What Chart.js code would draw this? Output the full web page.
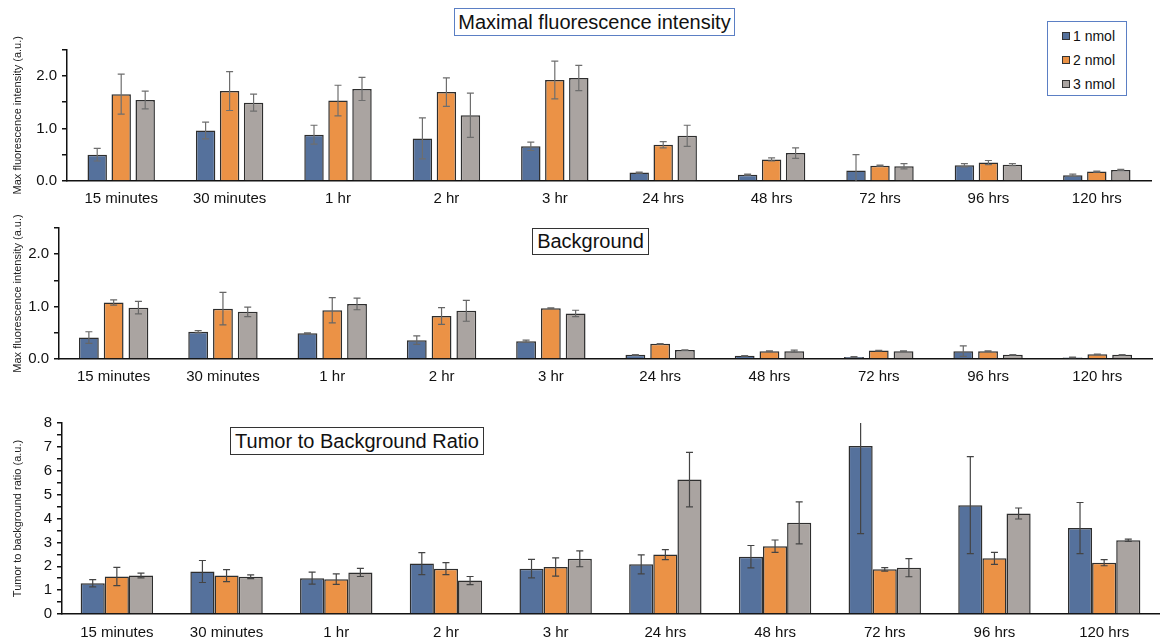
<!DOCTYPE html>
<html>
<head>
<meta charset="utf-8">
<script src="https://cdn.jsdelivr.net/npm/chart.js@4.4.0/dist/chart.umd.min.js"></script>
<style>
  body { margin: 0; background: #fff; font-family: "Liberation Sans", Arial, sans-serif; }
  #page { position: relative; width: 1160px; height: 644px; overflow: hidden; }
  canvas { position: absolute; left: 0; top: 0; }
  .tbox {
    position: absolute; box-sizing: border-box; border: 1px solid #333;
    display: flex; align-items: center; justify-content: center;
    font-size: 20px; color: #111; background: #fff; z-index: 2;
  }
  .legend {
    position: absolute; left: 1047px; top: 21px; width: 80px; height: 75px;
    box-sizing: border-box; border: 1px solid #5b7fc4; background: #fff; z-index: 2;
  }
  .legend div { position: absolute; left: 14px; font-size: 14px; color: #111; line-height: 16px; }
  .legend span {
    display: inline-block; width: 6px; height: 6px; border: 1px solid #333;
    margin-right: 3px; vertical-align: 1px;
  }
</style>
</head>
<body>
<div id="page">
  <canvas id="maxChart" width="1160" height="644"></canvas>
  <canvas id="bgChart" width="1160" height="644"></canvas>
  <canvas id="ratioChart" width="1160" height="644"></canvas>
  <div class="tbox" style="left:454px;top:8px;width:281px;height:28px;border-color:#5b7fc4;">Maximal fluorescence intensity</div>
  <div class="tbox" style="left:532px;top:228px;width:117px;height:27px;">Background</div>
  <div class="tbox" style="left:230px;top:427px;width:254px;height:28px;">Tumor to Background Ratio</div>
  <div class="legend" id="legend"></div>
</div>
<script>
const categories = ["15 minutes", "30 minutes", "1 hr", "2 hr", "3 hr", "24 hrs", "48 hrs", "72 hrs", "96 hrs", "120 hrs"];
const seriesNames = ["1 nmol", "2 nmol", "3 nmol"];
const barColors = ["#55719c", "#eb9246", "#aaa4a1"];

// maximal fluorescence intensity
const maxN1 = [0.50, 0.96, 0.88, 0.81, 0.66, 0.16, 0.12, 0.20, 0.30, 0.11];
const maxN2 = [1.65, 1.71, 1.53, 1.69, 1.92, 0.69, 0.41, 0.29, 0.35, 0.18];
const maxN3 = [1.54, 1.49, 1.75, 1.25, 1.96, 0.86, 0.53, 0.28, 0.31, 0.21];
const maxN1Err = [0.12, 0.16, 0.18, 0.39, 0.08, 0.01, 0.01, 0.30, 0.03, 0.02];
const maxN2Err = [0.38, 0.37, 0.29, 0.27, 0.36, 0.06, 0.03, 0.01, 0.04, 0.01];
const maxN3Err = [0.17, 0.16, 0.22, 0.42, 0.24, 0.20, 0.10, 0.05, 0.02, 0.01];

// background
const bgN1 = [0.41, 0.52, 0.49, 0.36, 0.34, 0.08, 0.06, 0.04, 0.15, 0.03];
const bgN2 = [1.08, 0.96, 0.93, 0.82, 0.97, 0.29, 0.15, 0.16, 0.15, 0.09];
const bgN3 = [0.98, 0.90, 1.05, 0.92, 0.87, 0.17, 0.15, 0.15, 0.08, 0.08];
const bgN1Err = [0.11, 0.02, 0.01, 0.08, 0.02, 0.005, 0.005, 0.005, 0.10, 0.005];
const bgN2Err = [0.05, 0.31, 0.24, 0.16, 0.005, 0.005, 0.005, 0.005, 0.005, 0.005];
const bgN3Err = [0.12, 0.09, 0.11, 0.20, 0.06, 0.005, 0.02, 0.005, 0.005, 0.005];

// tumor to background ratio
const ratioN1 = [1.29, 1.78, 1.50, 2.11, 1.90, 2.08, 2.40, 7.04, 4.56, 3.60];
const ratioN2 = [1.57, 1.61, 1.46, 1.90, 1.97, 2.49, 2.84, 1.87, 2.33, 2.15];
const ratioN3 = [1.61, 1.56, 1.74, 1.40, 2.31, 5.63, 3.82, 1.94, 4.21, 3.09];
const ratioN1Err = [0.15, 0.46, 0.25, 0.46, 0.39, 0.40, 0.47, 3.67, 2.03, 1.07];
const ratioN2Err = [0.38, 0.25, 0.22, 0.25, 0.38, 0.21, 0.26, 0.07, 0.25, 0.13];
const ratioN3Err = [0.10, 0.08, 0.17, 0.17, 0.33, 1.14, 0.88, 0.38, 0.23, 0.05];

const W = 1160, H = 644;
Chart.defaults.font.family = '"Liberation Sans", Arial, sans-serif';
Chart.defaults.color = "#111";

// symmetric error bars, clipped to the plot area
const errorBars = {
  id: "errorBars",
  afterDatasetsDraw(chart, args, opts) {
    const { ctx, chartArea, scales } = chart;
    ctx.save();
    ctx.beginPath();
    ctx.rect(chartArea.left, chartArea.top, chartArea.width, chartArea.height);
    ctx.clip();
    ctx.strokeStyle = opts.color;
    ctx.lineWidth = 1.2;
    chart.data.datasets.forEach((ds, i) => {
      chart.getDatasetMeta(i).data.forEach((bar, j) => {
        const e = ds.errors[j];
        const hi = scales.y.getPixelForValue(ds.data[j] + e);
        const lo = scales.y.getPixelForValue(ds.data[j] - e);
        ctx.beginPath();
        ctx.moveTo(bar.x, hi); ctx.lineTo(bar.x, lo);
        ctx.moveTo(bar.x - 3.5, hi); ctx.lineTo(bar.x + 3.5, hi);
        ctx.moveTo(bar.x - 3.5, lo); ctx.lineTo(bar.x + 3.5, lo);
        ctx.stroke();
      });
    });
    ctx.restore();
  },
};

function makeChart(id, series, errs, opt) {
  new Chart(document.getElementById(id), {
    type: "bar",
    data: {
      labels: categories,
      datasets: series.map((d, i) => ({
        label: seriesNames[i],
        data: d,
        errors: errs[i],
        backgroundColor: barColors[i],
        borderColor: "#2e2e2e",
        borderWidth: 1.5,
        barPercentage: opt.barPct,
        categoryPercentage: opt.catPct,
      })),
    },
    options: {
      responsive: false,
      animation: false,
      events: [],
      layout: { padding: { top: opt.top, bottom: H - opt.bottom - 30, left: 0, right: W - opt.right } },
      plugins: {
        legend: { display: false },
        tooltip: { enabled: false },
        errorBars: { color: opt.errColor },
      },
      scales: {
        x: {
          grid: { display: false, drawTicks: false },
          border: { display: true, color: "#111", width: 1.5 },
          ticks: { font: { size: 15 }, padding: opt.xpad, maxRotation: 0, autoSkip: false },
          afterFit: (s) => { s.height = 30; },
        },
        y: {
          min: 0,
          max: opt.max,
          grid: { display: true, drawOnChartArea: false, drawTicks: true, tickLength: 5, color: "#111", lineWidth: 1.5 },
          border: { display: true, color: "#111", width: 1.5 },
          ticks: {
            stepSize: 0.5,
            autoSkip: false,
            font: { size: 15 },
            padding: 5,
            callback: (v) => (Number.isInteger(v) ? (opt.decimals ? v.toFixed(1) : String(v)) : ""),
          },
          title: { display: true, text: opt.yTitle, font: { size: 11 }, color: "#222", padding: { top: 11, bottom: 0 } },
          afterFit: (s) => { s.width = opt.left; },
        },
      },
    },
    plugins: [errorBars],
  });
}

makeChart("maxChart", [maxN1, maxN2, maxN3], [maxN1Err, maxN2Err, maxN3Err], {
  left: 67, right: 1151, top: 49.5, bottom: 181, xpad: 9, max: 2.5, decimals: true,
  catPct: 0.664, barPct: 0.81, errColor: "#6e6e6e", yTitle: "Max fluorescence intensity (a.u.)",
});
makeChart("bgChart", [bgN1, bgN2, bgN3], [bgN1Err, bgN2Err, bgN3Err], {
  left: 59, right: 1152, top: 228, bottom: 359, xpad: 9, max: 2.5, decimals: true,
  catPct: 0.68, barPct: 0.8, errColor: "#666", yTitle: "Max fluorescence intensity (a.u.)",
});
makeChart("ratioChart", [ratioN1, ratioN2, ratioN3], [ratioN1Err, ratioN2Err, ratioN3Err], {
  left: 62, right: 1159, top: 423, bottom: 614, xpad: 10, max: 8, decimals: false,
  catPct: 0.66, barPct: 1.0, errColor: "#444", yTitle: "Tumor to background ratio (a.u.)",
});

// legend box
const legend = document.getElementById("legend");
seriesNames.forEach((name, i) => {
  const row = document.createElement("div");
  row.style.top = (6 + i * 24) + "px";
  row.innerHTML = '<span style="background:' + barColors[i] + '"></span>' + name;
  legend.appendChild(row);
});
</script>
</body>
</html>
